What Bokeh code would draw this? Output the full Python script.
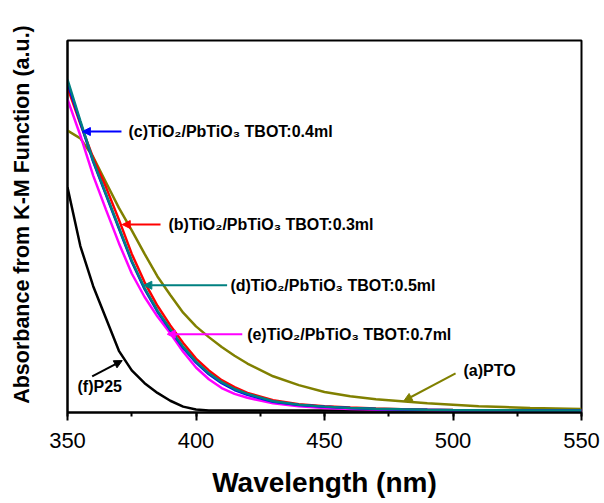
from bokeh.plotting import figure
from bokeh.models import Range1d, SingleIntervalTicker, FixedTicker, Arrow, NormalHead, Label
from bokeh.embed import file_html
from bokeh.resources import INLINE

# ---- data ----
wavelength = [350, 355, 360, 365, 370, 375, 380, 385, 390, 395, 400, 405, 410, 415,
              420, 430, 440, 450, 460, 470, 480, 490, 500, 510, 520, 530, 540, 550]

pto = [286, 278, 259, 233, 207, 184, 160, 137, 118, 100, 86, 75, 65, 56,
       48, 35, 26, 19, 14.5, 11.5, 9.5, 7.5, 6, 4.5, 3.5, 2.5, 2, 1.5]
tbot_03 = [330, 293, 258, 228, 195, 160, 131, 107, 87, 69, 53, 41, 31, 24,
           18, 10.5, 6.5, 4.5, 3, 2, 1.3, 0.9, 0.6, 0.4, 0.2, 0.1, 0.1, 0]
tbot_04 = [335, 294, 254, 220, 186, 152, 124, 101, 82, 64, 49, 37, 28, 21,
           16, 9, 5.7, 3.8, 2.5, 1.7, 1.1, 0.7, 0.4, 0.3, 0.2, 0.1, 0.1, 0]
tbot_05 = [338, 296, 255, 221, 187, 153, 125, 102, 83, 65, 50, 38, 29, 22,
           17, 9.5, 6, 4, 2.7, 1.8, 1.2, 0.8, 0.5, 0.3, 0.2, 0.1, 0.1, 0]
tbot_07 = [318, 281, 240, 205, 171, 140, 116, 96, 79, 60, 44, 32, 23, 17,
           13, 7.5, 4.5, 2.5, 1.5, 1, 0.7, 0.5, 0.3, 0.2, 0.1, 0.1, 0.1, 0]
p25 = [228, 168, 127, 94, 61, 41, 28, 18, 10, 4, 1, 0, 0, 0,
       0, 0, 0, 0, 0, 0, 0, 0, 0, 0, 0, 0, 0, 0]

x_ticks_interval = 50

series = [
    ("(a)PTO", pto, "#808000"),
    ("(f)P25", p25, "#000000"),
    ("(e)TiO₂/PbTiO₃ TBOT:0.7ml", tbot_07, "#FF00FF"),
    ("(b)TiO₂/PbTiO₃ TBOT:0.3ml", tbot_03, "#FF0000"),
    ("(c)TiO₂/PbTiO₃ TBOT:0.4ml", tbot_04, "#0000FF"),
    ("(d)TiO₂/PbTiO₃ TBOT:0.5ml", tbot_05, "#008080"),
]

# annotation placement: (text, color, text_x, text_y, arrow_start_x, arrow_start_y, arrow_tip_x, arrow_tip_y)
notes = [
    ("(c)TiO₂/PbTiO₃ TBOT:0.4ml", "#0000FF", 373.7, 285, 371.0, 285, 355.8, 285),
    ("(b)TiO₂/PbTiO₃ TBOT:0.3ml", "#FF0000", 389.3, 190, 386.2, 190, 371.3, 190),
    ("(d)TiO₂/PbTiO₃ TBOT:0.5ml", "#008080", 413.4, 128, 412.1, 128, 379.7, 128),
    ("(e)TiO₂/PbTiO₃ TBOT:0.7ml", "#FF00FF", 419.9, 78, 418.0, 78, 388.8, 78),
    ("(a)PTO", "#808000", 504.1, 41, 501.0, 38, 480.9, 10),
    ("(f)P25", "#000000", 353.9, 25, 359.6, 35, 371.3, 51),
]

FONT = "Liberation Sans"

p = figure(width=600, height=500, output_backend="svg", toolbar_location=None,
           x_range=Range1d(350, 550), y_range=Range1d(-2, 378),
           min_border_left=67, min_border_right=19, min_border_top=40, min_border_bottom=80)
p.grid.visible = False
p.outline_line_color = "black"
p.outline_line_width = 2
p.outline_line_alpha = 1.0
p.background_fill_color = "white"
p.border_fill_color = "white"

for name, ys, col in series:
    p.line(wavelength, ys, line_color=col, line_width=2.5)

for text, col, tx, ty, sx, sy, ex, ey in notes:
    p.add_layout(Arrow(x_start=sx, y_start=sy, x_end=ex, y_end=ey, line_color=col, line_width=2,
                       end=NormalHead(size=8, fill_color=col, line_color=col)))
    p.add_layout(Label(x=tx, y=ty, text=text, text_color="black", text_font=FONT,
                       text_font_style="bold", text_font_size="16px", text_baseline="middle",
                       text_align="left"))

xa = p.xaxis[0]
xa.ticker = SingleIntervalTicker(interval=x_ticks_interval, num_minor_ticks=2)
xa.axis_line_width = 2
xa.major_tick_line_width = 2
xa.minor_tick_line_width = 2
xa.major_tick_in = 0
xa.major_tick_out = 8
xa.minor_tick_in = 0
xa.minor_tick_out = 4
xa.major_label_text_font = FONT
xa.major_label_text_font_size = "22px"
xa.major_label_text_color = "black"
xa.major_label_standoff = 12
xa.axis_label = "Wavelength (nm)"
xa.axis_label_text_font = FONT
xa.axis_label_text_font_size = "28px"
xa.axis_label_text_font_style = "bold"
xa.axis_label_text_color = "black"
xa.axis_label_standoff = 16

ya = p.yaxis[0]
ya.ticker = FixedTicker(ticks=[])
ya.axis_line_width = 2
ya.major_tick_line_color = None
ya.minor_tick_line_color = None
ya.major_label_text_font_size = "0px"
ya.axis_label = "\u00a0\u00a0\u00a0\u00a0Absorbance from K-M Function (a.u.)"
ya.axis_label_text_font = FONT
ya.axis_label_text_font_size = "21.5px"
ya.axis_label_text_font_style = "bold"
ya.axis_label_text_color = "black"
ya.axis_label_standoff = 34

open("out.html", "w").write(file_html(p, INLINE))
